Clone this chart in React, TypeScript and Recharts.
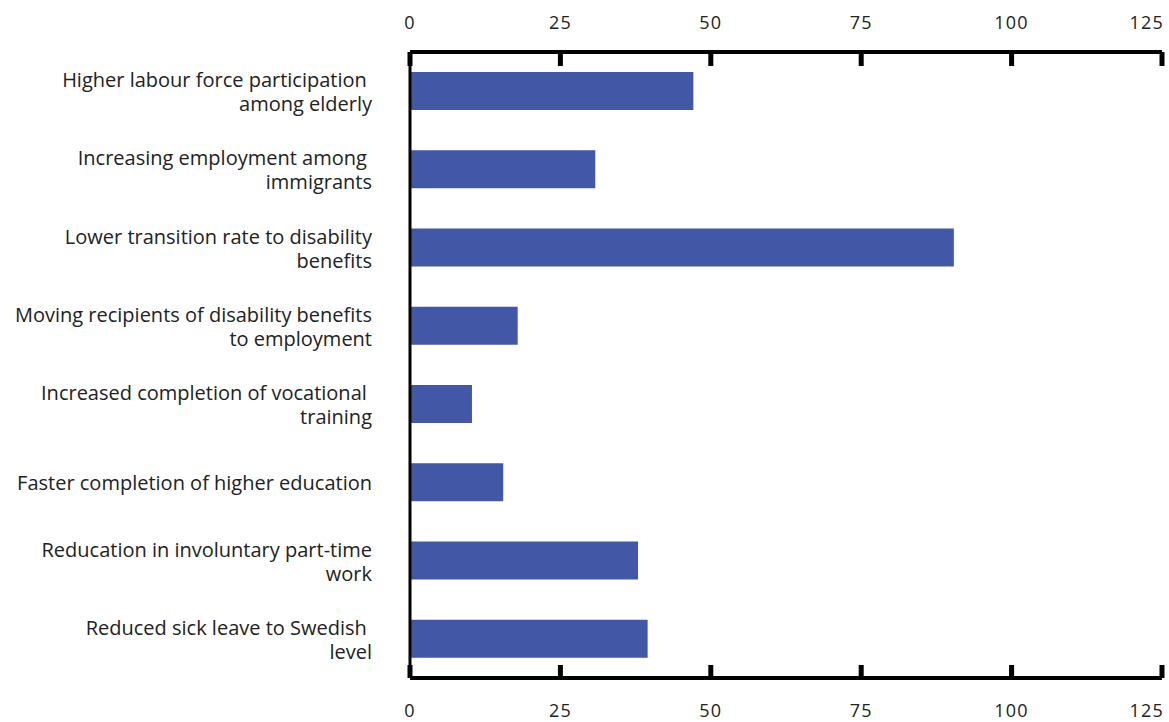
import { Bar, ComposedChart, Line, XAxis, YAxis } from "recharts";

const measures = [
  "Higher labour force participation \namong elderly",
  "Increasing employment among \nimmigrants",
  "Lower transition rate to disability\nbenefits",
  "Moving recipients of disability benefits\nto employment",
  "Increased completion of vocational \ntraining",
  "Faster completion of higher education",
  "Reducation in involuntary part-time\nwork",
  "Reduced sick leave to Swedish \nlevel",
];
const effects = [47.1, 30.8, 90.4, 17.9, 10.3, 15.5, 37.9, 39.5];
const xTicks = [0, 25, 50, 75, 100, 125];

const data = measures.map((m, i) => ({ measure: m, value: effects[i] }));

const FONT = "'Open Sans', 'Noto Sans', sans-serif";

function tickAnchor(v: number) {
  return v === xTicks[xTicks.length - 1] ? "end" : "middle";
}

function TopTick(props: any) {
  const { x, y, payload } = props;
  const anchor = tickAnchor(payload.value);
  return (
    <g>
      <line x1={x} x2={x} y1={y} y2={y + 14} stroke="#000" strokeWidth={5} />
      <text x={anchor === "end" ? x + 2 : x} y={y - 23} textAnchor={anchor} fontSize={18} fontFamily={FONT} letterSpacing={1.2} fill="#222">
        {payload.value}
      </text>
    </g>
  );
}

function BottomTick(props: any) {
  const { x, y, payload } = props;
  const anchor = tickAnchor(payload.value);
  return (
    <g>
      <line x1={x} x2={x} y1={y} y2={y - 13} stroke="#000" strokeWidth={5} />
      <text x={anchor === "end" ? x + 2 : x} y={y + 39} textAnchor={anchor} fontSize={18} fontFamily={FONT} letterSpacing={1.2} fill="#222">
        {payload.value}
      </text>
    </g>
  );
}

function MeasureTick(props: any) {
  const { y, payload } = props;
  const lines = String(payload.value).split("\n");
  const lh = 24;
  const start = y - ((lines.length - 1) * lh) / 2 + 8;
  return (
    <text textAnchor="end" fontSize={20} fontFamily={FONT} fill="#222" style={{ whiteSpace: "pre" }}>
      {lines.map((l, i) => (
        <tspan key={i} x={372} y={start + i * lh}>
          {l}
        </tspan>
      ))}
    </text>
  );
}

export default function App() {
  return (
    <div style={{ position: "absolute", left: 0, top: 0, background: "#fff" }}>
      <ComposedChart
        width={1169}
        height={722}
        data={data}
        layout="vertical"
        margin={{ top: 0, right: 7, bottom: 0, left: 0 }}
      >
        <XAxis
          xAxisId="top"
          orientation="top"
          type="number"
          domain={[0, 125]}
          ticks={xTicks}
          height={52}
          tickSize={0}
          tickMargin={0}
          tickLine={false}
          axisLine={{ stroke: "#000", strokeWidth: 4 }}
          tick={<TopTick />}
          interval={0}
        />
        <XAxis
          xAxisId="bottom"
          orientation="bottom"
          type="number"
          domain={[0, 125]}
          ticks={xTicks}
          height={44}
          tickSize={0}
          tickMargin={0}
          tickLine={false}
          axisLine={{ stroke: "#000", strokeWidth: 4 }}
          tick={<BottomTick />}
          interval={0}
        />
        <YAxis
          type="category"
          dataKey="measure"
          width={410}
          tickLine={false}
          axisLine={{ stroke: "#000", strokeWidth: 3 }}
          tick={<MeasureTick />}
          interval={0}
        />
        <Bar xAxisId="top" dataKey="value" fill="#4257a6" barSize={38} isAnimationActive={false} />
        <Line
          xAxisId="bottom"
          dataKey="value"
          stroke="none"
          dot={false}
          activeDot={false}
          legendType="none"
          isAnimationActive={false}
        />
      </ComposedChart>
    </div>
  );
}
